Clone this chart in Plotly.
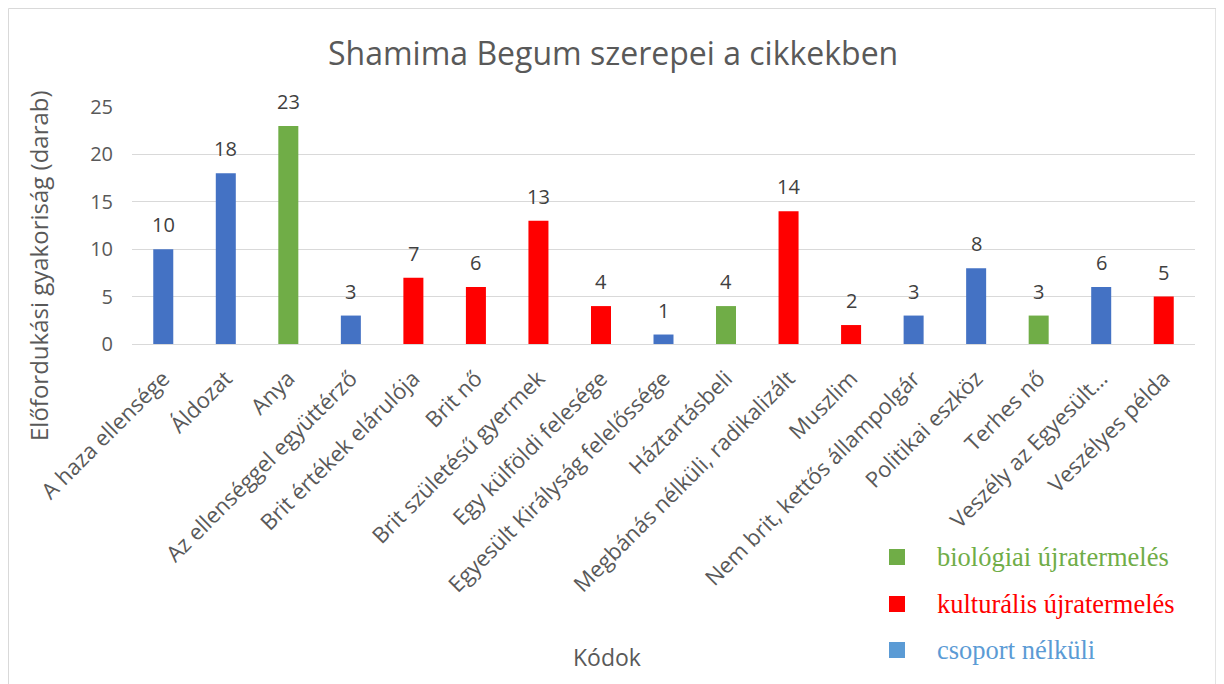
import plotly.graph_objects as go

categories = ["A haza ellensége", "Áldozat", "Anya", "Az ellenséggel együttérző",
              "Brit értékek elárulója", "Brit nő", "Brit születésű gyermek",
              "Egy külföldi felesége", "Egyesült Királyság felelőssége", "Háztartásbeli",
              "Megbánás nélküli, radikalizált", "Muszlim", "Nem brit, kettős állampolgár",
              "Politikai eszköz", "Terhes nő", "Veszély az Egyesült…", "Veszélyes példa"]
values = [10, 18, 23, 3, 7, 6, 13, 4, 1, 4, 14, 2, 3, 8, 3, 6, 5]
groups = ["n", "n", "b", "n", "k", "k", "k", "k", "n", "b", "k", "k", "n", "n", "b", "n", "k"]

group_names = {"b": "biológiai újratermelés", "k": "kulturális újratermelés", "n": "csoport nélküli"}
bar_colors = {"b": "#70AD47", "k": "#FF0000", "n": "#4472C4"}
legend_colors = {"b": "#70AD47", "k": "#FF0000", "n": "#5B9BD5"}
legend_order = ["b", "k", "n"]

OFF = 8  # page body margin
W, H = 1216, 676
# plot area in page coordinates
PL, PR, PT, PB = 132, 1195, 107, 344
L, T = PL - OFF, PT - OFF
R = W - (PR - OFF)
B = H - (PB - OFF)

def px(x):
    return (x - OFF - L) / (W - L - R)

def py(y):
    return (H - B - (y - OFF)) / (H - T - B)

fig = go.Figure()
fig.add_trace(go.Bar(
    x=categories, y=values,
    marker=dict(color=[bar_colors[g] for g in groups], line=dict(width=0)),
    showlegend=False, hoverinfo="x+y",
))

for c, v in zip(categories, values):
    fig.add_annotation(x=c, y=v, text=str(v), showarrow=False, yanchor="bottom",
                       yshift=9, font=dict(family="Open Sans", size=20, color="#404040"))

# title and axis titles
fig.add_annotation(x=px(613), y=py(53), xref="paper", yref="paper", showarrow=False,
                   text="Shamima Begum szerepei a cikkekben", xanchor="center", yanchor="middle",
                   font=dict(family="Open Sans", size=32, color="#595959"))
fig.add_annotation(x=px(38), y=py(266), xref="paper", yref="paper", showarrow=False,
                   text="Előfordukási gyakoriság (darab)", textangle=-90,
                   xanchor="center", yanchor="middle",
                   font=dict(family="Open Sans", size=24, color="#595959"))
fig.add_annotation(x=px(607), y=py(657), xref="paper", yref="paper", showarrow=False,
                   text="Kódok", xanchor="center", yanchor="middle",
                   font=dict(family="Open Sans", size=23, color="#595959"))

# custom legend
legend_y = [557, 604, 650]
for g, yy in zip(legend_order, legend_y):
    fig.add_shape(type="rect", xref="paper", yref="paper",
                  x0=px(889), x1=px(905), y0=py(yy - 8), y1=py(yy + 8),
                  fillcolor=legend_colors[g], line=dict(width=0))
    fig.add_annotation(x=px(935), y=py(yy), xref="paper", yref="paper", showarrow=False,
                       text=group_names[g], xanchor="left", yanchor="middle",
                       font=dict(family="Liberation Serif", size=26.5, color=legend_colors[g]))

# chart frame
fig.add_shape(type="rect", xref="paper", yref="paper",
              x0=px(8.5), x1=px(1216), y0=py(700), y1=py(8.5),
              line=dict(color="#D9D9D9", width=1), layer="below")
fig.add_shape(type="line", xref="paper", yref="paper",
              x0=px(1217), x1=px(1217), y0=py(700), y1=py(8),
              line=dict(color="#D9D9D9", width=3), layer="below")

fig.update_layout(
    width=W, height=H,
    margin=dict(l=L, r=R, t=T, b=B, autoexpand=False),
    paper_bgcolor="white", plot_bgcolor="white",
    bargap=0.68,
    font=dict(family="Open Sans", color="#595959"),
)
fig.update_xaxes(
    type="category", categoryorder="array", categoryarray=categories,
    tickangle=-45, tickfont=dict(family="Open Sans", size=22, color="#595959"),
    showgrid=False, showline=True, linecolor="#D9D9D9", linewidth=1,
    ticks="", ticklabelstandoff=12, automargin=False,
)
fig.update_yaxes(
    range=[0, 25], tickvals=[0, 5, 10, 15, 20, 25],
    tickfont=dict(family="Open Sans", size=20, color="#595959"),
    showgrid=True, gridcolor="#D9D9D9", gridwidth=1,
    zeroline=True, zerolinecolor="#D9D9D9", zerolinewidth=1,
    showline=False, ticks="", ticklabelstandoff=18, automargin=False,
)

fig.write_html("out.html")
